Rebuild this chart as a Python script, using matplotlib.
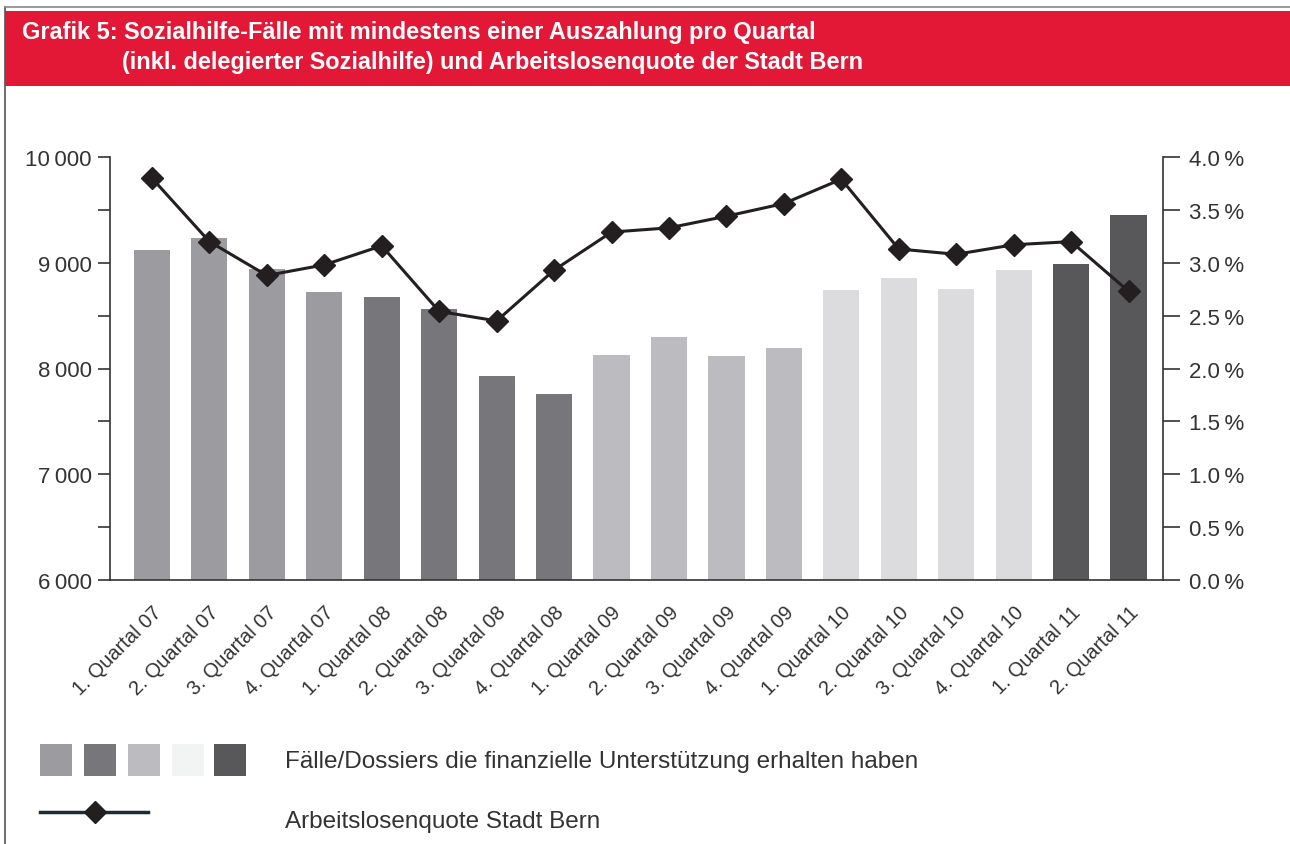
import numpy as np
import matplotlib.pyplot as plt
from matplotlib.patches import Rectangle
from matplotlib.lines import Line2D

plt.rcParams['font.family'] = ['Liberation Sans', 'DejaVu Sans']

quarters = ["1. Quartal 07", "2. Quartal 07", "3. Quartal 07", "4. Quartal 07",
            "1. Quartal 08", "2. Quartal 08", "3. Quartal 08", "4. Quartal 08",
            "1. Quartal 09", "2. Quartal 09", "3. Quartal 09", "4. Quartal 09",
            "1. Quartal 10", "2. Quartal 10", "3. Quartal 10", "4. Quartal 10",
            "1. Quartal 11", "2. Quartal 11"]
faelle = [9120, 9234, 8941, 8723, 8676, 8563, 7929, 7759, 8128, 8298,
          8118, 8194, 8742, 8856, 8752, 8931, 8988, 9452]
quote = [3.80, 3.20, 2.88, 2.98, 3.16, 2.54, 2.45, 2.93, 3.29, 3.33,
         3.44, 3.56, 3.79, 3.13, 3.08, 3.17, 3.20, 2.73]
year_colors = {"07": "#9c9ca0", "08": "#77777b", "09": "#bcbcc0",
               "10": "#dcdcde", "11": "#58585a"}
legend_colors = ["#9c9ca0", "#77777b", "#bcbcc0", "#f2f3f3", "#58585a"]

txt = "#333333"
W, H = 1290, 845
fig = plt.figure(figsize=(W / 100, H / 100), dpi=100)

# frame lines and title banner
fig.lines.append(Line2D([5/W, 5/W], [0, 1 - 8/H], transform=fig.transFigure, color="#555555", lw=1.2))
fig.lines.append(Line2D([5/W, 1], [1 - 8/H, 1 - 8/H], transform=fig.transFigure, color="#888888", lw=1.2))
fig.patches.append(Rectangle((5/W, 1 - 87/H), 1, 75/H, transform=fig.transFigure,
                             facecolor="#e31837", edgecolor="none"))
fig.text(22/W, 1 - 33/H, "Grafik 5: Sozialhilfe-Fälle mit mindestens einer Auszahlung pro Quartal",
         color="white", fontsize=16.9, fontweight="bold", va="center", ha="left")
fig.text(122/W, 1 - 63/H, "(inkl. delegierter Sozialhilfe) und Arbeitslosenquote der Stadt Bern",
         color="white", fontsize=16.9, fontweight="bold", va="center", ha="left")

ax = fig.add_axes([110/W, 1 - 581/H, (1163 - 110)/W, (581 - 158)/H])
x = np.arange(len(quarters))
colors = [year_colors[q[-2:]] for q in quarters]
ax.bar(x, faelle, width=0.63, color=colors, zorder=2)
ax.set_ylim(6000, 10000)
ax.set_xlim(-0.73, 17.6)
yt = np.arange(6000, 10001, 500)
ax.set_yticks(yt)
ax.set_yticklabels([f"{v // 1000}\u2009{v % 1000:03d}" if v % 1000 == 0 else "" for v in yt])
ax.set_xticks(x)
ax.set_xticklabels(quarters, rotation=45, ha="right", rotation_mode="anchor")
ax.tick_params(axis="x", length=0, pad=16, labelsize=14.5, labelcolor=txt)
ax.tick_params(axis="y", length=9, width=1.2, color="#333333", labelsize=16, labelcolor=txt, pad=4)
for s in ["top", "right"]:
    ax.spines[s].set_visible(False)
for s in ["left", "bottom"]:
    ax.spines[s].set_color("#333333")
    ax.spines[s].set_linewidth(1.2)

ax2 = ax.twinx()
ax2.plot(x, quote, color="#231f20", lw=2.2, marker="D", markersize=11, zorder=5)
ax2.set_ylim(0, 4)
qt = np.arange(0, 4.01, 0.5)
ax2.set_yticks(qt)
ax2.set_yticklabels([f"{v:.1f}\u2009%" for v in qt])
ax2.tick_params(axis="y", length=12, width=1.2, color="#333333", labelsize=16, labelcolor=txt, pad=7)
for s in ["top", "left", "bottom"]:
    ax2.spines[s].set_visible(False)
ax2.spines["right"].set_color("#333333")
ax2.spines["right"].set_linewidth(1.2)

# legend
for x0, c in zip([40, 84, 128, 172, 214], legend_colors):
    fig.patches.append(Rectangle((x0/W, 1 - 777/H), 32/W, 32/H,
                                 transform=fig.transFigure, facecolor=c, edgecolor="none"))
fig.text(285/W, 1 - 762/H, "Fälle/Dossiers die finanzielle Unterstützung erhalten haben",
         fontsize=17.5, color=txt, va="center")
fig.lines.append(Line2D([40/W, 148/W], [1 - 813/H, 1 - 813/H], transform=fig.transFigure,
                        color="#1c2a33", lw=2.5))
fig.lines.append(Line2D([95/W], [1 - 813/H], transform=fig.transFigure, color="#231f20",
                        marker="D", markersize=11, lw=0))
fig.text(285/W, 1 - 822/H, "Arbeitslosenquote Stadt Bern", fontsize=17.5, color=txt, va="center")

fig.savefig("out.png", dpi=100)
